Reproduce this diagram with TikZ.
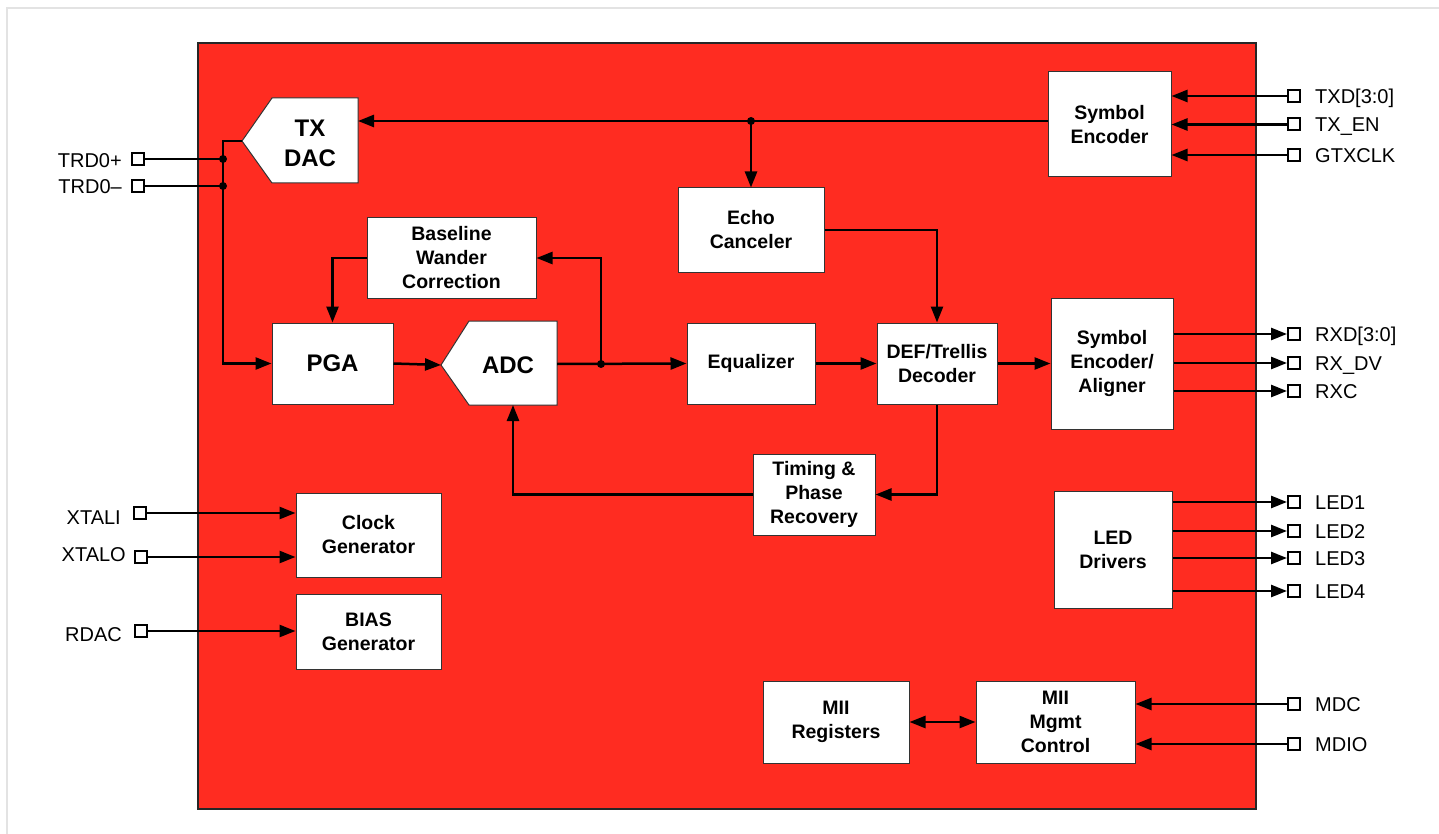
\documentclass[tikz,border=0pt]{standalone}
\usepackage{fontspec}
\setmainfont{Liberation Sans}
\usetikzlibrary{arrows.meta}
\definecolor{chipred}{RGB}{255,44,33}
\begin{document}
\begin{tikzpicture}[x=1pt,y=-1pt,
  blk/.style={draw=black!80, line width=1pt, fill=white, align=center, inner sep=0pt,
    font=\bfseries\fontsize{19.5}{24}\selectfont},
  bigtxt/.style={align=center, inner sep=0pt, font=\bfseries\fontsize{24}{30}\selectfont},
  pinsq/.style={draw=black, line width=2pt, fill=white, minimum size=12pt, inner sep=0pt},
  plabel/.style={inner sep=0pt, font=\fontsize{20}{24}\selectfont, text height=14.4pt, text depth=0pt},
  wire/.style={line width=2.5pt},
  arr/.style={wire, -{Triangle[length=16pt,width=12pt]}},
  darr/.style={wire, {Triangle[length=16pt,width=12pt]}-{Triangle[length=16pt,width=12pt]}},
  jdot/.style={circle, fill=black, inner sep=0pt, minimum size=8pt}]
\useasboundingbox (0,0) rectangle (1439,834);
\draw[color=black!11, line width=2pt] (7,850) -- (7,8) -- (1460,8);
% chip
\draw[fill=chipred, draw=black!85, line width=1.5pt] (198,43) rectangle (1256,809);

% converters
\draw[fill=white, draw=black!80, line width=1pt] (242,141) coordinate (dactip) -- (272,98) -- (358,98) -- (358,183) -- (272,183) -- cycle;
\node[bigtxt] (dac) at (310,143) {TX\\DAC};
\coordinate (dacR) at (358,121);
\draw[fill=white, draw=black!80, line width=1pt] (441,365) coordinate (adctip) -- (469,321) -- (557,321) -- (557,405) -- (469,405) -- cycle;
\node[bigtxt] (adc) at (508,365) {ADC};
\coordinate (adcR) at (557,364);
\coordinate (adcB) at (513,405);

% blocks
\node[blk, minimum width=123pt, minimum height=105pt] (se) at (1109.5,124.5) {Symbol\\Encoder};
\node[blk, minimum width=146pt, minimum height=84pt] (echo) at (751,230) {Echo\\Canceler};
\node[blk, minimum width=169pt, minimum height=80pt] (bwc) at (451.5,258) {Baseline\\Wander\\Correction};
\node[blk, minimum width=121pt, minimum height=81pt, font=\bfseries\fontsize{24}{30}\selectfont] (pga) at (332.5,363.5) {PGA};
\node[blk, minimum width=128pt, minimum height=81pt] (eq) at (751,363.5) {Equalizer};
\node[blk, minimum width=120pt, minimum height=81pt] (def) at (937,363.5) {DEF/Trellis\\Decoder};
\node[blk, minimum width=122pt, minimum height=131pt] (sea) at (1112,363.5) {Symbol\\Encoder/\\Aligner};
\node[blk, minimum width=122pt, minimum height=81pt] (tpr) at (814,494.5) {Timing \&\\Phase\\Recovery};
\node[blk, minimum width=118pt, minimum height=117pt] (led) at (1113,549.5) {LED\\Drivers};
\node[blk, minimum width=145pt, minimum height=84pt] (cg) at (368.5,535) {Clock\\Generator};
\node[blk, minimum width=145pt, minimum height=75pt] (bg) at (368.5,631.5) {BIAS\\Generator};
\node[blk, minimum width=146pt, minimum height=82pt] (miir) at (836,722) {MII\\Registers};
\node[blk, minimum width=159pt, minimum height=82pt] (miim) at (1055.5,722) {MII\\Mgmt\\Control};

% pins left
\node[pinsq] (ptp) at (138,159) {};
\node[pinsq] (ptm) at (138,186) {};
\node[pinsq] (pxi) at (140,513) {};
\node[pinsq] (pxo) at (141,557) {};
\node[pinsq] (prd) at (140.5,631) {};
\node[plabel, anchor=east] (ltp) at (122,160) {TRD0+};
\node[plabel, anchor=east] (ltm) at (122,186) {TRD0\textendash};
\node[plabel, anchor=east] (lxi) at (121,517) {XTALI};
\node[plabel, anchor=east] (lxo) at (126,554) {XTALO};
\node[plabel, anchor=east] (lrd) at (122,634) {RDAC};

% pins right
\foreach \n/\y/\t in {ptxd/96/{TXD[3:0]}, pten/124.5/{TX\_EN}, pgtx/155/{GTXCLK},
    prxd/334/{RXD[3:0]}, prdv/363/{RX\_DV}, prxc/391/{RXC},
    pl1/502/{LED1}, pl2/531/{LED2}, pl3/558/{LED3}, pl4/591/{LED4},
    pmdc/704/{MDC}, pmdio/744/{MDIO}}{
  \node[pinsq] (\n) at (1294,\y) {};
  \node[plabel, anchor=west] (l\n) at ([xshift=14pt]\n.east) {\t};
}

% transmit path
\coordinate (busj) at (751,121);
\draw[arr] (se.west |- busj) -- (dacR);
\draw[arr] (busj) -- (echo.north);
\draw[arr] (ptxd.west) -- (se.east |- ptxd);
\draw[arr] (pten.west) -- (se.east |- pten);
\draw[arr] (pgtx.west) -- (se.east |- pgtx);

% line interface
\coordinate (jp) at (223,159);
\coordinate (jm) at (223,186);
\draw[wire] (ptp.east) -- (jp);
\draw[wire] (ptm.east) -- (jm);
\draw[arr] (dactip) -- (223,141) |- (pga.west);

% receive path
\draw[arr] (bwc.west) -| (pga.north);
\draw[arr] (pga.east) -- (adctip);
\coordinate (adcj) at (601,364);
\draw[arr] (adcR) -- (eq.west);
\draw[arr] (adcj) |- (bwc.east);
\draw[arr] (eq.east) -- (def.west);
\draw[arr] (echo.east) -| (def.north);
\draw[arr] (def.east) -- (sea.west);
\draw[arr] (def.south) |- (tpr.east);
\draw[arr] (tpr.west) -| (adcB);
\draw[arr] (sea.east |- prxd) -- (prxd.west);
\draw[arr] (sea.east |- prdv) -- (prdv.west);
\draw[arr] (sea.east |- prxc) -- (prxc.west);

% LEDs
\foreach \p in {pl1,pl2,pl3,pl4}{
  \draw[arr] (led.east |- \p) -- (\p.west);
}

% management
\draw[arr] (pmdc.west) -- (miim.east |- pmdc);
\draw[arr] (pmdio.west) -- (miim.east |- pmdio);
\draw[darr] (miir.east) -- (miim.west);

% clocks and bias
\draw[arr] (pxi.east) -- (cg.west |- pxi);
\draw[arr] (pxo.east) -- (cg.west |- pxo);
\draw[arr] (prd.east) -- (bg.west |- prd);

% junction dots
\node[jdot] (d1) at (jp) {};
\node[jdot] (d2) at (jm) {};
\node[jdot] (d3) at (busj) {};
\node[jdot] (d4) at (adcj) {};
\end{tikzpicture}
\end{document}
